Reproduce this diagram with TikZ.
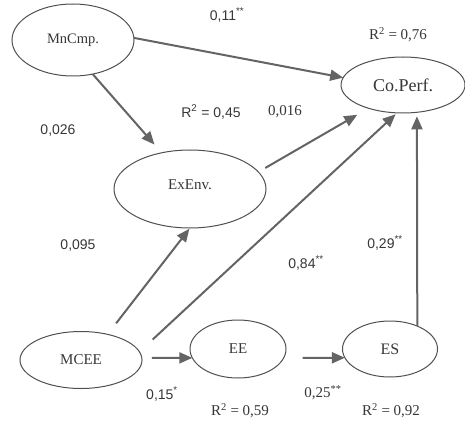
\documentclass[tikz,border=0pt]{standalone}
\usepackage{fontspec}
\setmainfont{Liberation Serif}
\setsansfont{Liberation Sans}
\usetikzlibrary{shapes.geometric,arrows.meta}
\definecolor{lineg}{RGB}{100,100,100}
\definecolor{edgeg}{RGB}{80,80,80}
\definecolor{txt}{RGB}{55,55,55}
\begin{document}
\begin{tikzpicture}[x=1pt,y=-1pt,
  var/.style={ellipse,draw=edgeg,line width=1pt,inner sep=0pt,outer sep=0pt,text=txt,font=\fontsize{15}{17}\selectfont},
  pth/.style={draw=lineg,line width=2pt,-{Triangle[length=13pt,width=11pt]}},
  sl/.style={font=\sffamily\fontsize{14}{16}\selectfont,text=txt,inner sep=0pt},
  rl/.style={font=\fontsize{15}{17}\selectfont,text=txt,inner sep=0pt}]
\useasboundingbox[fill=white] (0,0) rectangle (465,422);
% variables
\node[var,minimum width=122pt,minimum height=72pt,font=\fontsize{14.5}{17}\selectfont] (mn) at (73,40) {MnCmp.};
\node[var,minimum width=124pt,minimum height=56pt,font=\fontsize{18}{20}\selectfont] (cp) at (403,85) {Co.Perf.};
\node[var,minimum width=152pt,minimum height=78pt] (ex) at (190,189) {\raisebox{9pt}{ExEnv.}};
\node[var,minimum width=122pt,minimum height=57pt] (mc) at (81,360) {MCEE};
\node[var,minimum width=96pt,minimum height=58pt] (ee) at (238,349) {EE};
\node[var,minimum width=95pt,minimum height=56pt,font=\fontsize{16}{18}\selectfont] (es) at (390,349) {ES};
% paths
\draw[pth] (mn.2) -- (cp.173);
\draw[pth,shorten >=11pt] (mn.-60) -- (ex.128);
\draw[pth,shorten <=8pt,shorten >=13pt] (ex.14) -- (cp.214);
\draw[pth,shorten <=18pt,shorten >=2pt] (mc.8) -- (cp.258);
\draw[pth,shorten <=14pt,shorten >=1pt] (mc.44) -- (ex.270);
\draw[pth,shorten <=10pt] (mc.2) -- (ee.191);
\draw[pth,shorten <=19pt] (ee.-11) -- (es.191);
\draw[pth,shorten >=4pt] (es.40) -- (cp.-63);
% labels
\node[sl] (l011) at (227,15) {0,11\textsuperscript{**}};
\node[rl] (r76) at (398,35) {R\textsuperscript{2} = 0,76};
\node[sl] (r45) at (211,112) {R\textsuperscript{2} = 0,45};
\node[rl] (l016) at (285,112) {0,016};
\node[sl] (l026) at (58,131) {0,026};
\node[sl] (l095) at (78,246) {0,095};
\node[sl] (l084) at (306,263) {0,84\textsuperscript{**}};
\node[sl] (l029) at (385,243) {0,29\textsuperscript{**}};
\node[sl] (l015) at (162,394) {0,15\textsuperscript{*}};
\node[rl] (l025) at (323,393) {0,25\textsuperscript{**}};
\node[rl] (r59) at (240,411) {R\textsuperscript{2} = 0,59};
\node[rl] (r92) at (391,411) {R\textsuperscript{2} = 0,92};
\end{tikzpicture}
\end{document}
